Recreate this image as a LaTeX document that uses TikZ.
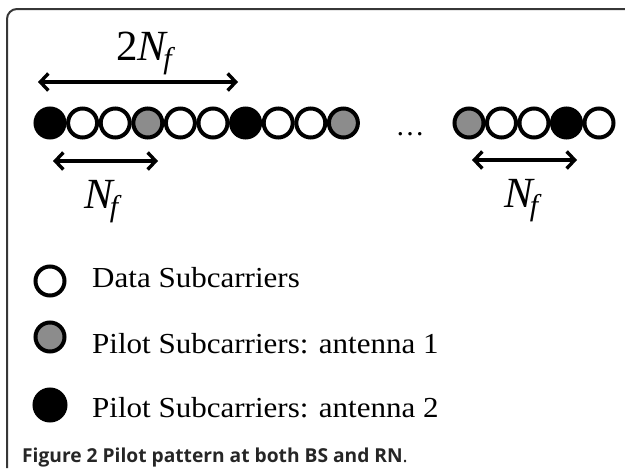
\documentclass[tikz,border=0pt]{standalone}
\usepackage{fontspec}
\setmainfont{Liberation Serif}
\newfontfamily\capfont{Open Sans}
\newfontfamily\legfont[FakeStretch=1.07]{Liberation Serif}
\usetikzlibrary{arrows.meta}
\definecolor{pilotgray}{RGB}{140,140,140}
\definecolor{framegray}{RGB}{55,55,55}
\newcommand{\Nf}{\textit{N}\kern-5pt\raisebox{-8pt}{\fontsize{30}{30}\selectfont\itshape f}}
\begin{document}
\begin{tikzpicture}[x=1pt,y=-1pt,
  sub/.style={circle,draw=black,line width=4pt,minimum size=29pt,inner sep=0pt},
  dat/.style={sub,fill=white},
  pg/.style={sub,fill=pilotgray},
  pb/.style={sub,fill=black},
  dim/.style={line width=3.4pt,{Straight Barb[length=8pt,width=17pt,line width=3.4pt]}-{Straight Barb[length=8pt,width=17pt,line width=3.4pt]}},
  lbl/.style={font=\legfont\fontsize{29}{32}\selectfont,anchor=base west,inner sep=0pt},
  ml/.style={font=\fontsize{43}{43}\selectfont,anchor=base west,inner sep=0pt}]
\useasboundingbox (0,0) rectangle (625,471);
% frame
\draw[framegray,line width=2pt,rounded corners=10pt] (7,468) -- (7,9) -- (626,9);
% first group of subcarriers
\foreach \t [count=\i from 0] in {pb,dat,dat,pg,dat,dat,pb,dat,dat,pg}
  \node[\t] (a\i) at (50+32.6*\i,123) {};
% dots
\node[font=\fontsize{29}{29}\selectfont,anchor=base,inner sep=0pt] (dots) at (410,135) {\ldots};
% second group
\foreach \t [count=\i from 0] in {pg,dat,dat,pb,dat}
  \node[\t] (b\i) at (469+32.5*\i,123) {};
% dimension arrows
\coordinate (u1) at (38,82);  \coordinate (u2) at (238,82);
\coordinate (l1) at (53,161); \coordinate (l2) at (158,161);
\coordinate (r1) at (472,160); \coordinate (r2) at (577,160);
\draw[dim] (u1) -- (u2);
\draw[dim] (l1) -- (l2);
\draw[dim] (r1) -- (r2);
\node[ml] (n2) at (116,60) {2\Nf};
\node[ml] (n1) at (84,208) {\Nf};
\node[ml] (n3) at (504,207) {\Nf};
% legend
\node[dat] (k1) at (50,281) {};
\node[pg]  (k2) at (50,337) {};
\node[pb,minimum size=31pt]  (k3) at (50,405) {};
\node[lbl] (t1) at (92,287) {Data Subcarriers};
\node[lbl] (t2) at (92,353) {Pilot Subcarriers: antenna 1};
\node[lbl] (t3) at (92,417) {Pilot Subcarriers: antenna 2};
% caption
\node[anchor=base west,inner sep=0pt,font=\capfont\bfseries\fontsize{19.2}{19.2}\selectfont,text=black!85] (cap) at (22,462) {Figure 2 Pilot pattern at both BS and RN{\mdseries .}};
\end{tikzpicture}
\end{document}
